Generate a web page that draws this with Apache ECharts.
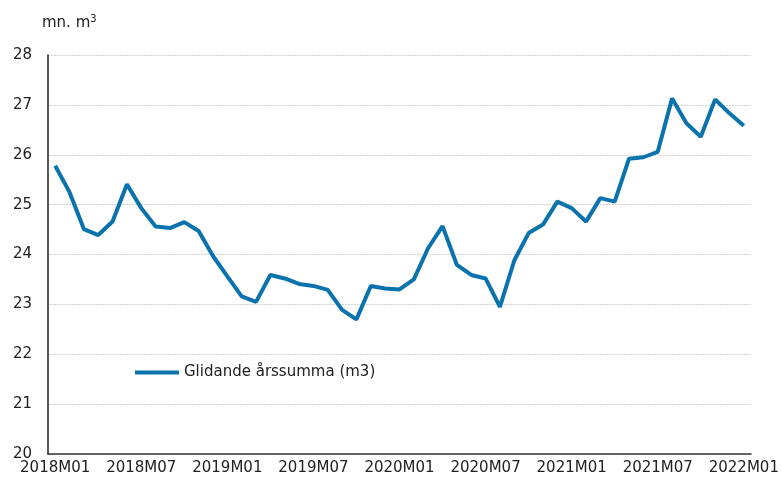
<!DOCTYPE html>
<html>
<head>
<meta charset="utf-8">
<script src="https://cdn.jsdelivr.net/npm/echarts@6/dist/echarts.min.js"></script>
<style>
  html, body { margin: 0; padding: 0; background: #fff; }
  #chart { width: 782px; height: 487px; }
</style>
</head>
<body>
<div id="chart"></div>
<script>
// månader 2018M01 - 2022M01
var years = [2018, 2019, 2020, 2021, 2022];
var months = [];
years.forEach(function (y) {
  for (var m = 1; m <= 12; m++) {
    if (y === 2022 && m > 1) break;
    months.push(y + "M" + (m < 10 ? "0" + m : m));
  }
});

var seriesName = "Glidande årssumma (m3)";
var values = [
  25.78, 25.25, 24.51, 24.39, 24.66, 25.41, 24.93, 24.56, 24.53, 24.65, 24.47, 23.97,
  23.56, 23.16, 23.05, 23.59, 23.52, 23.41, 23.37, 23.29, 22.89, 22.70, 23.37, 23.32,
  23.30, 23.50, 24.13, 24.57, 23.79, 23.59, 23.52, 22.95, 23.88, 24.43, 24.60, 25.06,
  24.93, 24.66, 25.13, 25.06, 25.92, 25.95, 26.06, 27.13, 26.63, 26.36, 27.11, 26.83,
  26.58
];
var yMin = 20, yMax = 28, yStep = 1;

var chart = echarts.init(document.getElementById("chart"));
chart.setOption({
  animation: false,
  textStyle: { fontFamily: "DejaVu Sans" },
  title: {
    text: "mn. m{sup|3}",
    left: 37,
    top: 9,
    textStyle: {
      fontSize: 15, fontWeight: "normal", color: "#222",
      rich: { sup: { fontSize: 10, verticalAlign: "top", padding: [0, 0, 8, 0], color: "#222" } }
    }
  },
  legend: {
    data: [{ name: seriesName, icon: "rect" }],
    left: 130,
    top: 360,
    itemWidth: 44,
    itemHeight: 4,
    itemGap: 4,
    textStyle: { fontSize: 15, color: "#222" }
  },
  grid: { left: 48, right: 31, top: 55, bottom: 33 },
  xAxis: {
    type: "category",
    data: months,
    boundaryGap: true,
    axisLine: { lineStyle: { color: "#333", width: 1.5 } },
    axisTick: { interval: 5, length: 6, lineStyle: { color: "#333" } },
    axisLabel: { interval: 5, fontSize: 15, color: "#222", margin: 7 },
    splitLine: { show: false }
  },
  yAxis: {
    type: "value",
    min: yMin,
    max: yMax,
    interval: yStep,
    axisLine: { show: true, lineStyle: { color: "#222", width: 1.5 } },
    axisTick: { show: false },
    axisLabel: { fontSize: 15, color: "#222", margin: 16 },
    splitLine: { lineStyle: { color: "#d2d2d2", type: [2, 1], width: 1 } }
  },
  series: [
    {
      name: seriesName,
      type: "line",
      data: values,
      symbol: "none",
      lineStyle: { color: "#0a72ad", width: 4 },
      itemStyle: { color: "#0a72ad" }
    }
  ]
});
</script>
</body>
</html>
